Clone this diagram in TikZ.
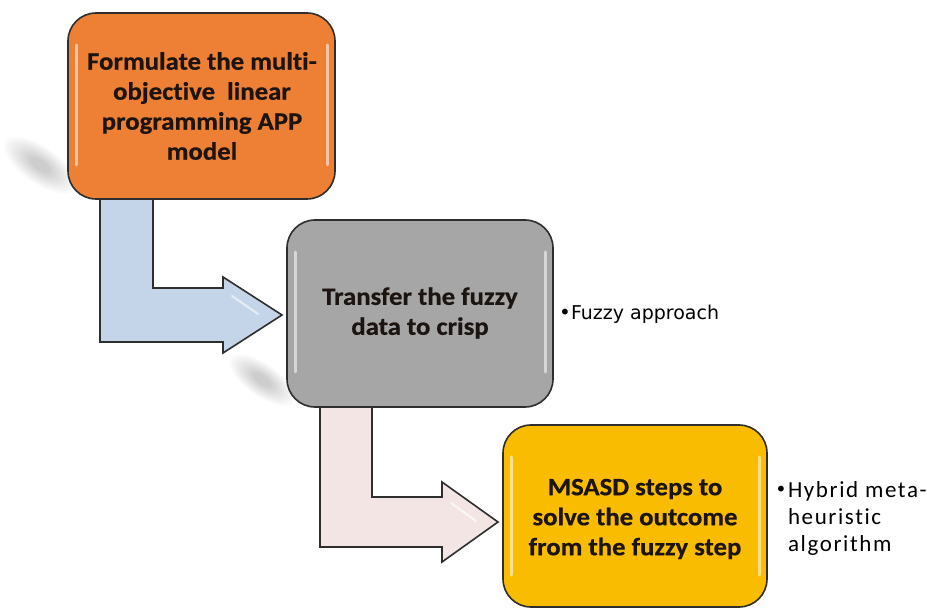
\documentclass[tikz,border=0pt]{standalone}
\usepackage{fontspec}
\setmainfont{Carlito}
\newfontfamily\boxfont[FakeStretch=1.07, FakeBold=0.6, Ligatures=NoCommon]{Carlito Bold}
\newfontfamily\verd{DejaVu Sans}
\newfontfamily\hyb[LetterSpace=7, Ligatures=NoCommon]{Carlito}
\usetikzlibrary{calc}
\definecolor{orangefill}{HTML}{EE8035}
\definecolor{grayfill}{HTML}{A6A6A6}
\definecolor{yellowfill}{HTML}{F9BC00}
\definecolor{bluearrow}{HTML}{C4D4E9}
\definecolor{pinkarrow}{HTML}{F3E5E3}
\definecolor{edgecol}{HTML}{2E2E2E}
\definecolor{txt}{HTML}{1C1410}
\tikzset{
  stepbox/.style={draw=edgecol, line width=1.6pt, rounded corners=28pt},
  boxtext/.style={text=txt, align=center, font=\boxfont\fontsize{25}{30}\selectfont},
  blockarrow/.style={draw=edgecol, line width=1.6pt, line join=miter},
  gloss/.style={white, line width=3pt, line cap=round, opacity=0.55},
  softshadow/.style={fill=black, opacity=0.02},
  sidelabel/.style={text=black, inner sep=0pt}
}
\begin{document}
\begin{tikzpicture}[x=1pt,y=-1pt]
\useasboundingbox[fill=white] (0,0) rectangle (927,609);

% soft shadows
\foreach \r in {1,0.92,...,0.2}{
  \fill[softshadow] (40,165) ellipse[x radius=42*\r, y radius=18*\r, rotate=-35];
  \fill[softshadow] (262,380) ellipse[x radius=38*\r, y radius=16*\r, rotate=-35];
}

% block arrows
\fill[bluearrow] (100,190) -- (153,190) -- (153,288) -- (223,288) -- (223,277)
  -- (282,315) -- (223,353) -- (223,342) -- (100,342) -- cycle;
\draw[blockarrow] (100,190) -- (100,342) -- (223,342) -- (223,353) -- (282,315)
  -- (223,277) -- (223,288) -- (153,288) -- (153,190);
\draw[white, line width=2pt, opacity=0.6, line cap=round] (232,296) -- (258,314);

\fill[pinkarrow] (320,400) -- (372,400) -- (372,497) -- (442,497) -- (442,482)
  -- (498,522) -- (442,562) -- (442,547) -- (320,547) -- cycle;
\draw[blockarrow] (320,400) -- (320,547) -- (442,547) -- (442,562) -- (498,522)
  -- (442,482) -- (442,497) -- (372,497) -- (372,400);
\draw[white, line width=2pt, opacity=0.7, line cap=round] (451,503) -- (476,521);

% boxes
\path[stepbox, fill=orangefill] (68,13) rectangle (335,199);
\node[boxtext] (b1) at (202,106)
  {Formulate the multi-\\objective\ \ linear\\programming APP\\model};
\draw[gloss] (76,45) -- (76,165);
\draw[gloss] (327,45) -- (327,165);

\path[stepbox, fill=grayfill] (287,220) rectangle (553,407);
\node[boxtext] (b2) at (420,313)
  {Transfer the fuzzy\\data to crisp};
\draw[gloss] (295,252) -- (295,372);
\draw[gloss] (545,252) -- (545,372);

\path[stepbox, fill=yellowfill] (503,425) rectangle (767,607);
\node[boxtext] (b3) at (635,519)
  {MSASD steps to\\solve the outcome\\from the fuzzy step};
\draw[gloss] (511,457) -- (511,575);
\draw[gloss] (759,457) -- (759,575);

% side labels
\node[sidelabel, anchor=west] (l2) at (559,314)
  {\verd\fontsize{20}{20}\selectfont\raisebox{0pt}{•}\fontsize{19}{23}\selectfont Fuzzy approach};
\node[sidelabel, anchor=west] (l3) at (775,519)
  {\fontsize{23}{27}\selectfont\begin{tabular}{@{}l@{\hspace{1pt}}l@{}}\raisebox{1pt}{\verd\fontsize{20}{20}\selectfont •} & \hyb Hybrid meta-\\ & \hyb heuristic\\ & \hyb algorithm\end{tabular}};
\end{tikzpicture}
\end{document}
